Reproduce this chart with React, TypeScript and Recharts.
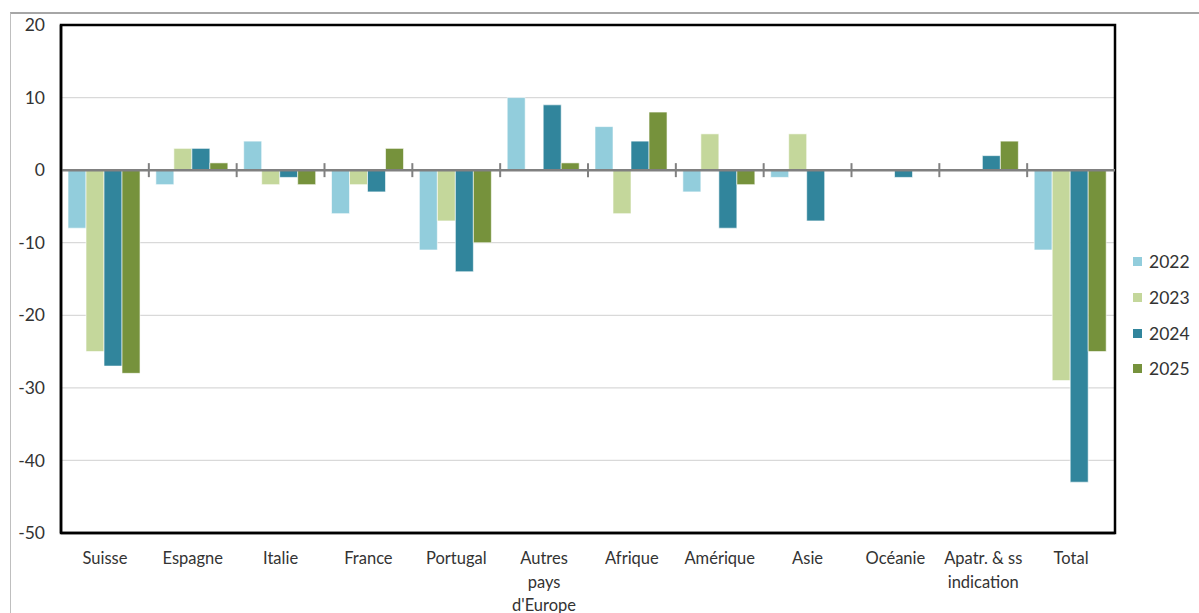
import React from "react";
import {
  BarChart,
  Bar,
  XAxis,
  YAxis,
  CartesianGrid,
  ReferenceLine,
  ReferenceArea,
  Legend,
} from "recharts";

const categories = [
  "Suisse",
  "Espagne",
  "Italie",
  "France",
  "Portugal",
  "Autres\npays\nd'Europe",
  "Afrique",
  "Amérique",
  "Asie",
  "Océanie",
  "Apatr. & ss\nindication",
  "Total",
];

const values2022 = [-8, -2, 4, -6, -11, 10, 6, -3, -1, 0, 0, -11];
const values2023 = [-25, 3, -2, -2, -7, 0, -6, 5, 5, 0, 0, -29];
const values2024 = [-27, 3, -1, -3, -14, 9, 4, -8, -7, -1, 2, -43];
const values2025 = [-28, 1, -2, 3, -10, 1, 8, -2, 0, 0, 4, -25];

const yTicks = [-50, -40, -30, -20, -10, 0, 10, 20];
const yMin = -50;
const yMax = 20;

const seriesNames = ["2022", "2023", "2024", "2025"];
const seriesColors = ["#92CDDC", "#C4D79B", "#31859C", "#76923C"];
const seriesValues = [values2022, values2023, values2024, values2025];

const data = categories.map((c, i) => {
  const row: Record<string, any> = { name: c };
  seriesNames.forEach((s, k) => {
    row[s] = seriesValues[k][i];
  });
  return row;
});

const FONT = "Lato, 'Noto Sans', sans-serif";
const TEXT = "#333333";

const XTick = (props: any) => {
  const { x, y, payload } = props;
  const lines = String(payload.value).split("\n");
  return (
    <text
      x={x}
      y={y}
      textAnchor="middle"
      fill={TEXT}
      fontFamily={FONT}
      fontSize={16.5}
    >
      {lines.map((l, i) => (
        <tspan key={i} x={x} dy={i === 0 ? 23 : 23.5}>
          {l}
        </tspan>
      ))}
    </text>
  );
};

const ZeroTicks = (props: any) => {
  const vb = props.viewBox || {};
  const n = categories.length;
  const x0 = vb.x ?? 0;
  const w = vb.width ?? 0;
  const y0 = vb.y ?? 0;
  const marks = [];
  for (let i = 1; i < n; i++) {
    const xx = x0 + (w * i) / n;
    marks.push(
      <line
        key={i}
        x1={xx}
        x2={xx}
        y1={y0 - 7}
        y2={y0 + 7}
        stroke="#808080"
        strokeWidth={2}
      />
    );
  }
  return <g>{marks}</g>;
};

const LegendContent = () => (
  <div style={{ fontFamily: FONT, fontSize: 17.5, color: TEXT }}>
    {seriesNames.map((s, k) => (
      <div
        key={s}
        style={{
          display: "flex",
          alignItems: "center",
          height: 35.7,
        }}
      >
        <span
          style={{
            display: "inline-block",
            width: 9,
            height: 9,
            background: seriesColors[k],
            marginRight: 7,
          }}
        />
        <span>{s}</span>
      </div>
    ))}
  </div>
);

export default function App() {
  return (
    <div
      style={{
        position: "absolute",
        left: 0,
        top: 0,
        width: 1199,
        height: 613,
        background: "#fff",
        overflow: "hidden",
      }}
    >
      <div
        style={{
          position: "absolute",
          left: 10,
          top: 12,
          width: 1200,
          height: 700,
          borderTop: "2px solid #A6A6A6",
          borderLeft: "1.5px solid #BFBFBF",
        }}
      />
      <div style={{ position: "absolute", left: 0, top: 0 }}>
        <BarChart
          width={1199}
          height={613}
          data={data}
          margin={{ top: 25, right: 84, bottom: 0, left: 11 }}
          barCategoryGap="8%"
          barGap={0}
        >
          <CartesianGrid
            vertical={false}
            stroke="#D9D9D9"
            strokeWidth={1.2}
          />
          <XAxis
            dataKey="name"
            height={80}
            interval={0}
            tick={<XTick />}
            tickLine={false}
            axisLine={{ stroke: "#000", strokeWidth: 2.5 }}
          />
          <YAxis
            domain={[yMin, yMax]}
            ticks={yTicks}
            width={50}
            tickLine={false}
            tickSize={6}
            tickMargin={10}
            interval={0}
            axisLine={{ stroke: "#000", strokeWidth: 2.5 }}
            tick={{ fill: TEXT, fontFamily: FONT, fontSize: 17.5 }}
          />
          <ReferenceArea
            x1={categories[0]}
            x2={categories[categories.length - 1]}
            y1={yMin}
            y2={yMax}
            fill="none"
            fillOpacity={0}
            stroke="#000"
            strokeWidth={2.5}
            strokeOpacity={1}
          />
          {seriesNames.map((s, k) => (
            <Bar
              key={s}
              dataKey={s}
              fill={seriesColors[k]}
              stroke="#ffffff"
              strokeWidth={0.6}
              isAnimationActive={false}
            />
          ))}
          <ReferenceLine
            y={0}
            stroke="#808080"
            strokeWidth={2.5}
            label={(p: any) => <ZeroTicks {...p} />}
          />
          <Legend
            layout="vertical"
            align="center"
            verticalAlign="middle"
            content={<LegendContent />}
            wrapperStyle={{ left: 1133, top: 244, width: 66 }}
          />
        </BarChart>
      </div>
    </div>
  );
}
